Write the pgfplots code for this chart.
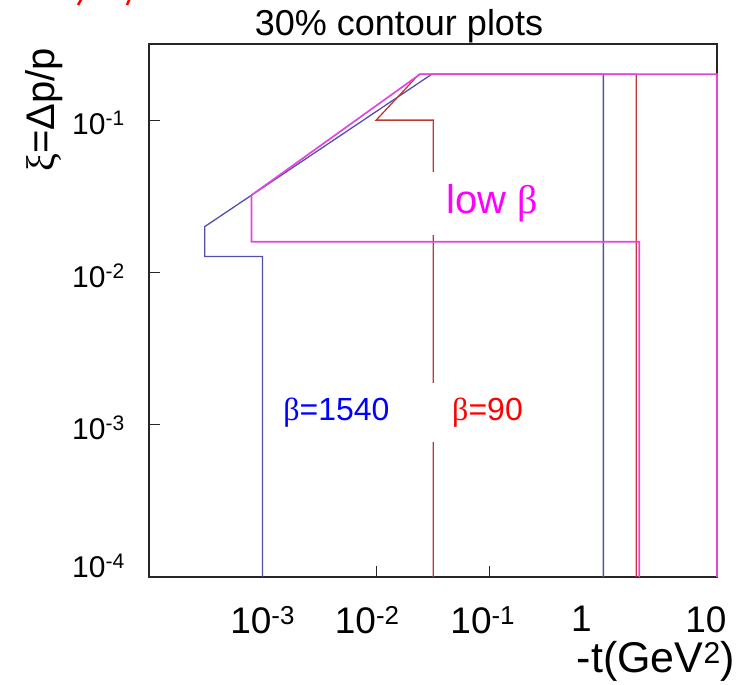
\documentclass[border=0pt]{standalone}
\usepackage{pgfplots}
\pgfplotsset{compat=1.18}
\usepackage{fontspec}
\setmainfont{Liberation Sans}
\newfontfamily\grk{Liberation Serif}

\definecolor{cblue}{RGB}{80,80,175}
\definecolor{cred}{RGB}{195,55,55}
\definecolor{cmag}{RGB}{225,70,225}
\definecolor{tblue}{RGB}{0,0,255}
\definecolor{tred}{RGB}{255,0,0}
\definecolor{tmag}{RGB}{255,0,255}

\begin{document}
\begin{tikzpicture}
\useasboundingbox (-149pt,-108pt) rectangle (596pt,577pt);
\begin{axis}[
  at={(0pt,0pt)}, anchor=south west,
  scale only axis, width=568pt, height=533pt,
  xmode=log, ymode=log,
  xmin=1e-4, xmax=10, ymin=1e-4, ymax=0.316,
  axis line style={draw=black!85, line width=1.3pt},
  every tick/.style={draw=black!85, line width=1.2pt},
  tick align=inside, major tick length=11pt,
  xtick pos=left, ytick pos=left,
  xminorticks=false, yminorticks=false,
  xtick={1e-3,1e-2,1e-1,1,10},
  xticklabels={10\textsuperscript{-3},
               10\textsuperscript{-2}\hspace*{18pt},
               10\textsuperscript{-1}\hspace*{14pt},
               1\hspace*{44pt},
               10\hspace*{22pt}},
  ytick={1e-3,1e-2,1e-1},
  yticklabels={10\textsuperscript{-3},
               10\textsuperscript{-2},10\textsuperscript{-1}},
  extra y ticks={1e-4},
  extra y tick labels={10\textsuperscript{-4}},
  extra y tick style={yticklabel style={yshift=14pt}},
  xticklabel style={font=\fontsize{37}{40}\selectfont, inner sep=0pt, yshift=-29pt},
  yticklabel style={font=\fontsize{30}{32}\selectfont, inner sep=0pt, xshift=-24pt, yshift=-3pt},
  clip=false,
]
% beta = 1540 contour
\addplot[cblue, line width=1.3pt] coordinates {
  (1e-3,1e-4) (1e-3,0.0127) (3.1e-4,0.0127) (3.1e-4,0.02)
  (0.0308,0.2) (1.0,0.2) (1.0,1e-4)
};
% beta = 90 contour
\addplot[cred, line width=1.3pt] coordinates {
  (0.0318,1e-4) (0.0318,0.1) (0.01,0.1) (0.0238,0.2)
  (1.95,0.2) (1.95,1e-4)
};
% low beta contour
\addplot[cmag, line width=1.7pt] coordinates {
  (2.07,1e-4) (2.07,0.0159) (8.0e-4,0.0159) (8.0e-4,0.0322)
  (0.0243,0.2) (10,0.2) (10,1e-4)
};

\node[fill=white, inner sep=0pt, minimum width=150pt, minimum height=63pt,
      text=tmag, font=\fontsize{40}{42}\selectfont]
  at (axis cs:0.136,0.0283) {low {\grk β}\hspace*{26pt}};
\node[fill=white, inner sep=0pt, minimum width=159pt, minimum height=59pt,
      text=tblue, font=\fontsize{32}{34}\selectfont]
  at (axis cs:0.00531,0.0012) {{\grk β}=1540\hspace*{17pt}};
\node[fill=white, inner sep=0pt, minimum width=125pt, minimum height=59pt,
      text=tred, font=\fontsize{32}{34}\selectfont]
  at (axis cs:0.0955,0.0012) {{\grk β}=90};
\end{axis}

% titles and axis labels
\node[anchor=base, font=\fontsize{36}{40}\selectfont] at (250pt,541pt) {30\% contour plots};
\node[anchor=base, rotate=90, font=\fontsize{40}{44}\selectfont] at (-94pt,467pt)
  {{\grk ξ}=Δp/p};
\node[anchor=base, font=\fontsize{43}{46}\selectfont] at (507pt,-96pt)
  {-t(GeV\textsuperscript{2})};

% fragments of red lettering cut off at the top edge
\draw[tred, line width=2.5pt] (-71pt,572pt) -- (-67pt,579pt);
\draw[tred, line width=2.5pt] (-22pt,572pt) -- (-19pt,579pt);
\end{tikzpicture}
\end{document}
